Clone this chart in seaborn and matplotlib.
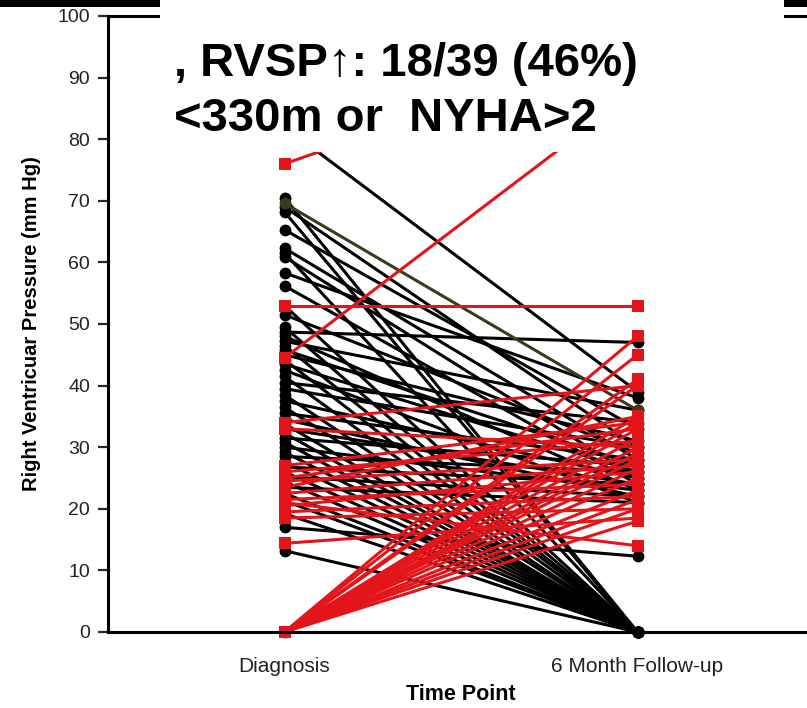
import pandas as pd
import matplotlib
matplotlib.use('Agg')
import matplotlib.pyplot as plt
from matplotlib.patches import Rectangle
import seaborn as sns

# time points
time_labels = ['Diagnosis', '6 Month Follow-up']

# patients whose RVSP fell or stayed (black)
black_diag = [82, 70.5, 69, 68.2, 65.3, 62.3, 61.5, 60.9, 58.3, 56.2, 53, 51.5,
              49.5, 48.7, 48, 47.2, 46.5, 45.8, 45, 44.2, 43.5, 42.5, 41.5, 40.5,
              39.5, 38.5, 37.5, 36.5, 35.5, 34.5, 33.8, 33, 32.3, 31.5, 30.8, 30,
              29.2, 28.5, 27.6, 26.8, 26, 25.2, 24.4, 23.5, 22.5, 21.3, 19.2, 17,
              13.2, 0]
black_follow = [39, 0, 30, 0, 33, 28, 0, 25, 38, 24, 0, 29,
                0, 47, 23, 36, 0, 27, 31, 0, 26, 21, 0, 34,
                30, 0, 25, 0, 28, 22, 0, 24, 0, 27, 0, 23,
                0, 26, 0, 24, 0, 22, 0, 21, 0, 0, 0, 12.3,
                0, 0]

# one olive trace
olive_diag = [69.6]
olive_follow = [36]

# patients whose RVSP rose (red)
red_diag = [76, 44.5, 53, 34, 33, 27, 26, 25, 24.5, 23.5, 22.5, 21.5, 20.5,
            19.5, 18.5, 21, 14.4,
            0, 0, 0, 0, 0, 0, 0, 0, 0, 0, 0, 0, 0, 0, 0, 0, 0]
red_follow = [96, 88, 53, 40, 30, 34, 31, 33, 28, 35, 27, 24, 26,
              22, 20, 14, 18.5,
              48, 45, 41, 40, 35, 34, 33, 31.5, 30, 29, 28, 26.5, 25, 23, 21.5, 20, 18]


def build_frame():
    """long-form table, one row per patient per time point"""
    rows = []
    pid = 0
    for group, d0, d1 in [('black', black_diag, black_follow),
                          ('olive', olive_diag, olive_follow),
                          ('red', red_diag, red_follow)]:
        for a, b in zip(d0, d1):
            rows.append({'id': pid, 'group': group, 'time': 0, 'value': a})
            rows.append({'id': pid, 'group': group, 'time': 1, 'value': b})
            pid += 1
    return pd.DataFrame(rows)


df = build_frame()

sns.set_theme(style='white')
plt.rcParams['font.family'] = ['Liberation Sans', 'DejaVu Sans']
plt.rcParams['text.color'] = 'black'
plt.rcParams['axes.labelcolor'] = 'black'

fig = plt.figure(figsize=(8.07, 7.08), dpi=100)
ax = fig.add_axes([108 / 807, 76 / 708, 706 / 807, 616 / 708])

sns.lineplot(data=df, x='time', y='value', hue='group', style='group',
             units='id', estimator=None, sort=False,
             hue_order=['black', 'olive', 'red'],
             palette={'black': '#000000', 'olive': '#3a3a1c', 'red': '#e3151b'},
             markers={'black': 'o', 'olive': 'o', 'red': 's'},
             dashes=False, linewidth=2.2, markersize=8.5, markeredgewidth=0,
             legend=False, ax=ax, clip_on=False)

ax.set_xlim(-0.5, 1.5)
ax.set_ylim(0, 100)
ax.set_yticks(range(0, 101, 10))
ax.set_xticks([0, 1], time_labels)
ax.tick_params(axis='y', direction='out', length=7, width=1.6, pad=6,
               labelsize=14, labelcolor='#222222', left=True)
ax.tick_params(axis='x', length=0, pad=18, labelsize=15, labelcolor='#222222')
ax.set_xlabel('Time Point', fontsize=15.5, fontweight='bold', labelpad=6)
ax.set_ylabel('Right Ventricuar Pressure (mm Hg)', fontsize=14.5,
              fontweight='bold', labelpad=12)
for side in ['left', 'bottom', 'top']:
    ax.spines[side].set_linewidth(2.2)
    ax.spines[side].set_color('black')
ax.spines['right'].set_visible(False)

# slide overlay: white box with annotation and black bars on top
fig.add_artist(Rectangle((160 / 807, 1 - 152 / 708), 624 / 807, 152 / 708,
                         transform=fig.transFigure, facecolor='white',
                         edgecolor='none', zorder=10))
fig.add_artist(Rectangle((0, 1 - 7 / 708), 160 / 807, 7 / 708,
                         transform=fig.transFigure, facecolor='black',
                         edgecolor='none', zorder=11))
fig.add_artist(Rectangle((784 / 807, 1 - 7 / 708), 23 / 807, 7 / 708,
                         transform=fig.transFigure, facecolor='black',
                         edgecolor='none', zorder=11))
fig.text(174 / 807, 1 - 76 / 708, ', RVSP\u2191: 18/39 (46%)', fontsize=34,
         fontweight='bold', color='black', va='baseline', ha='left', zorder=12)
fig.text(174 / 807, 1 - 131 / 708, '<330m or  NYHA>2', fontsize=34,
         fontweight='bold', color='black', va='baseline', ha='left', zorder=12)

fig.savefig('out.png', dpi=100)
